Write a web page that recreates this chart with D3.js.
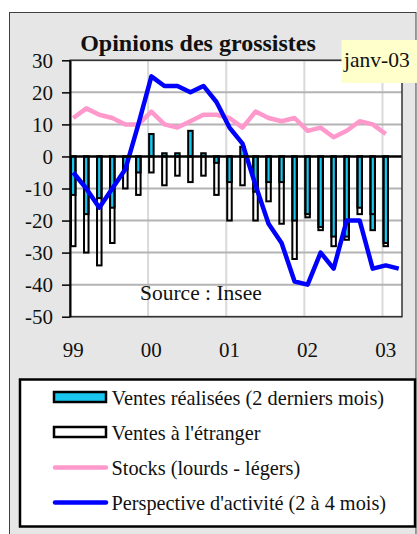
<!DOCTYPE html>
<html>
<head>
<meta charset="utf-8">
<script src="https://cdn.jsdelivr.net/npm/d3@7"></script>
<style>
  body { margin: 0; background: #fff; }
  svg text { font-family: "Liberation Serif", "DejaVu Serif", serif; fill: #111; }
</style>
</head>
<body>
<svg id="chart" width="417" height="534"></svg>
<script>
// enquete bimestrielle, janv 99 -> mars 03
var dates = ["1999-01","1999-03","1999-05","1999-07","1999-09","1999-11",
             "2000-01","2000-03","2000-05","2000-07","2000-09","2000-11",
             "2001-01","2001-03","2001-05","2001-07","2001-09","2001-11",
             "2002-01","2002-03","2002-05","2002-07","2002-09","2002-11",
             "2003-01","2003-03"];
var ventesRealisees = [-12,-18,-13,-16,-4,-5, 7,1,1,8,1,-2, -8,3,-11,-8,-8,-20, -18,-22,-25,-25,-16,-23, -27,null];
var ventesEtranger  = [-28,-30,-34,-27,-10,-12, -5,-9,-6,-8,-6,-12, -20,-9,-20,-14,-21,-32, -19,-23,-28,-26,-18,-18, -28,null];
var stocks          = [12,15,13,12,10,10, 14,10,9,11,13,13, 12,9,14,12,11,12, 8,9,6,8,11,10, 7,null];
var perspective     = [-5,-10,-16,-10,-4,10, 25,22,22,20,22,17, 9,4,-9,-21,-27,-39, -40,-30,-35,-20,-20,-35, -34,-35];

var yearTicks  = ["1999-01","2000-01","2001-01","2002-01","2003-01"];
var yearLabels = ["99","00","01","02","03"];

var legendLabels = ["Ventes réalisées (2 derniers mois)", "Ventes à l'étranger",
                    "Stocks (lourds - légers)", "Perspective d'activité (2 à 4 mois)"];

var fmtMonth = d3.timeFormat("%Y-%m");
var months = d3.timeMonth.range(new Date(1999, 0, 1), new Date(2003, 3, 1)).map(fmtMonth);

var plot = {left: 70, right: 402, top: 60.3, bottom: 316.7};

var svg = d3.select("#chart");

// fond du graphique
svg.append("rect")
  .attr("x", 9.5).attr("y", 12.5)
  .attr("width", 406.5).attr("height", 540)
  .attr("fill", "#e6e6e6").attr("stroke", "#404040").attr("stroke-width", 1);

svg.append("rect")
  .attr("x", plot.left).attr("y", plot.top)
  .attr("width", plot.right - plot.left).attr("height", plot.bottom - plot.top)
  .attr("fill", "#fff");

var x = d3.scaleBand().domain(months).range([plot.left, plot.right]).padding(0);
var y = d3.scaleLinear().domain([-50, 30]).range([plot.bottom, plot.top]);
var bw = x.bandwidth();

svg.append("defs").append("clipPath").attr("id", "clip")
  .append("rect")
  .attr("x", plot.left).attr("y", plot.top)
  .attr("width", plot.right - plot.left).attr("height", plot.bottom - plot.top);

// grille
svg.append("g").selectAll("line")
  .data(yearTicks.slice(1))
  .enter().append("line")
  .attr("x1", function(d) { return x(d); })
  .attr("x2", function(d) { return x(d); })
  .attr("y1", plot.top).attr("y2", plot.bottom)
  .attr("stroke", "#d9d9d9").attr("stroke-width", 2);

svg.append("g").selectAll("line")
  .data(y.ticks(8).filter(function(d) { return d !== 0; }))
  .enter().append("line")
  .attr("x1", plot.left).attr("x2", plot.right)
  .attr("y1", function(d) { return y(d); })
  .attr("y2", function(d) { return y(d); })
  .attr("stroke", "#b3b3b3").attr("stroke-width", 2);

var g = svg.append("g").attr("clip-path", "url(#clip)");

function barY(v) { return Math.min(y(v), y(0)); }
function barH(v) { return Math.abs(y(v) - y(0)); }

var rows = dates.map(function(d, i) {
  return {date: d, vr: ventesRealisees[i], ve: ventesEtranger[i], st: stocks[i], pe: perspective[i]};
});

g.selectAll(".vr")
  .data(rows.filter(function(d) { return d.vr !== null; }))
  .enter().append("rect")
  .attr("class", "vr")
  .attr("x", function(d) { return x(d.date) + 1; })
  .attr("width", bw - 2)
  .attr("y", function(d) { return barY(d.vr); })
  .attr("height", function(d) { return barH(d.vr); })
  .attr("fill", "#19c6ee").attr("stroke", "#000").attr("stroke-width", 2);

g.selectAll(".ve")
  .data(rows.filter(function(d) { return d.ve !== null; }))
  .enter().append("rect")
  .attr("class", "ve")
  .attr("x", function(d) { return x(d.date) + 1; })
  .attr("width", bw - 2)
  .attr("y", function(d) { return barY(d.ve); })
  .attr("height", function(d) { return barH(d.ve); })
  .attr("fill", "none").attr("stroke", "#000").attr("stroke-width", 2);

// ligne du zero
svg.append("line")
  .attr("x1", plot.left).attr("x2", plot.right)
  .attr("y1", y(0)).attr("y2", y(0))
  .attr("stroke", "#000").attr("stroke-width", 2.5);

var line = function(key) {
  return d3.line()
    .defined(function(d) { return d[key] !== null; })
    .x(function(d) { return x(d.date) + bw / 2; })
    .y(function(d) { return y(d[key]); });
};

g.append("path").datum(rows)
  .attr("d", line("st"))
  .attr("fill", "none").attr("stroke", "#ff99cc").attr("stroke-width", 4.5)
  .attr("stroke-linejoin", "round");

g.append("path").datum(rows)
  .attr("d", line("pe"))
  .attr("fill", "none").attr("stroke", "#0000ff").attr("stroke-width", 4.5)
  .attr("stroke-linejoin", "round");

// cadre de la zone de tracé
svg.append("rect")
  .attr("x", plot.left).attr("y", plot.top)
  .attr("width", plot.right - plot.left).attr("height", plot.bottom - plot.top)
  .attr("fill", "none").attr("stroke", "#333").attr("stroke-width", 1.5);

var yAxis = d3.axisLeft(y).ticks(8).tickSize(8).tickSizeOuter(0).tickPadding(9);
var gy = svg.append("g")
  .attr("transform", "translate(" + plot.left + ",0)")
  .call(yAxis);
gy.select(".domain").attr("stroke", "#000").attr("stroke-width", 2);
gy.selectAll(".tick line").attr("stroke", "#000").attr("stroke-width", 1.5);
gy.selectAll("text").style("font-size", "21px").attr("fill", "#111")
  .text(function(d) { return d < 0 ? "-" + Math.abs(d) : d; });

var xAxis = d3.axisBottom(x).tickValues(yearTicks).tickSize(0).tickPadding(25)
  .tickFormat(function(d) { return yearLabels[yearTicks.indexOf(d)]; });
var gx = svg.append("g")
  .attr("transform", "translate(0," + plot.bottom + ")")
  .call(xAxis);
gx.select(".domain").remove();
gx.selectAll("text").style("font-size", "21px").attr("fill", "#111");

svg.append("text")
  .attr("x", 198).attr("y", 51)
  .attr("text-anchor", "middle")
  .style("font-size", "24px").style("font-weight", "bold")
  .text("Opinions des grossistes");

svg.append("text")
  .attr("x", 140).attr("y", 300)
  .style("font-size", "21.5px")
  .text("Source : Insee");

svg.append("rect")
  .attr("x", 341.5).attr("y", 40)
  .attr("width", 76).attr("height", 43)
  .attr("fill", "#ffffcc");
svg.append("text")
  .attr("x", 344).attr("y", 67)
  .style("font-size", "21.5px")
  .text("janv-03");

// legende
var leg = svg.append("g");
leg.append("rect")
  .attr("x", 20).attr("y", 379.5)
  .attr("width", 395).attr("height", 147)
  .attr("fill", "#fff").attr("stroke", "#000").attr("stroke-width", 2.5);

var legRows = leg.selectAll(".item")
  .data(legendLabels)
  .enter().append("g")
  .attr("class", "item")
  .attr("transform", function(d, i) { return "translate(0," + (405 + i * 35) + ")"; });

legRows.filter(function(d, i) { return i < 2; })
  .append("rect")
  .attr("x", 54).attr("y", -13)
  .attr("width", 52).attr("height", 10)
  .attr("fill", function(d, i) { return i === 0 ? "#19c6ee" : "#fff"; })
  .attr("stroke", "#000").attr("stroke-width", 2.5);

legRows.filter(function(d, i) { return i >= 2; })
  .append("line")
  .attr("x1", 55).attr("x2", 106)
  .attr("y1", -7.5).attr("y2", -7.5)
  .attr("stroke", function(d, i) { return i === 0 ? "#ff99cc" : "#0000ff"; })
  .attr("stroke-width", 4.5).attr("stroke-linecap", "round");

legRows.append("text")
  .attr("x", 111.5).attr("y", 0)
  .style("font-size", "20.3px")
  .text(function(d) { return d; });
</script>
</body>
</html>
